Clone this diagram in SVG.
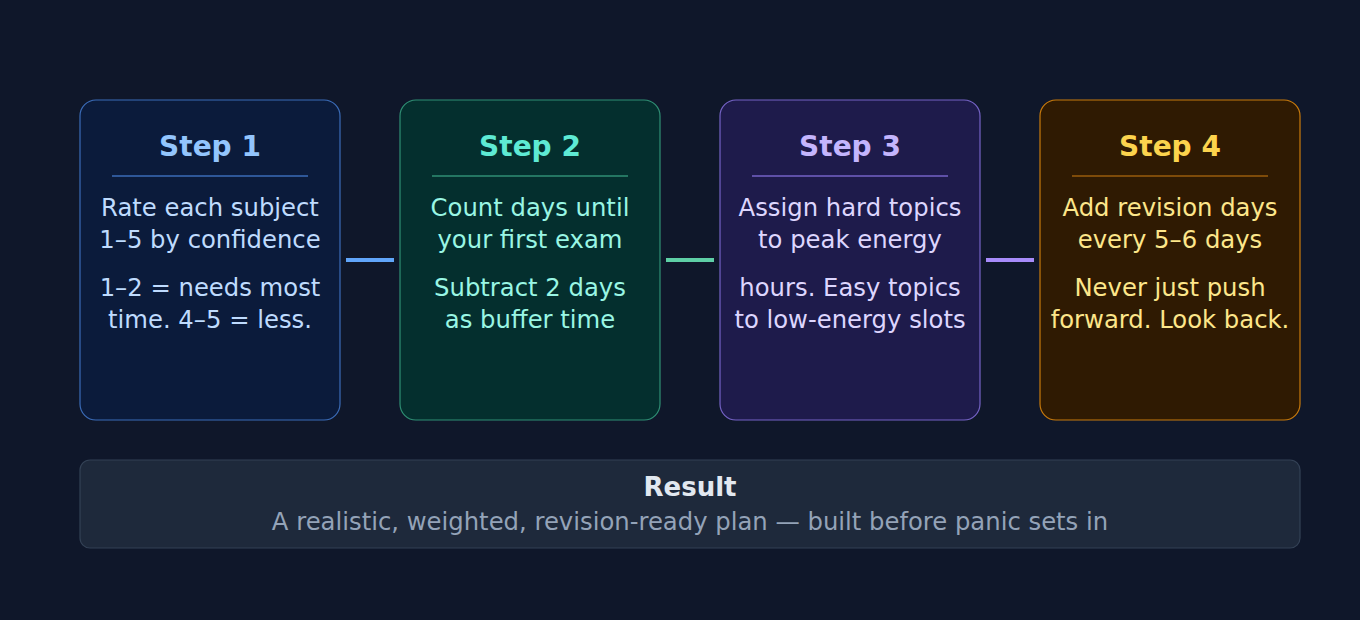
<svg xmlns="http://www.w3.org/2000/svg" width="1360" height="620" viewBox="0 0 1360 620">
<style>
text{font-family:"DejaVu Sans","Noto Sans",sans-serif;text-anchor:middle}
.t{font-size:28px;font-weight:bold}
.b{font-size:24.3px}
.box{stroke-width:1.2}
.conn{stroke-width:4;fill:none}
</style>
<rect width="1360" height="620" fill="#0f172a"/>
<g id="step1">
<rect class="box" x="80" y="100" width="260" height="320" rx="16" fill="#0b1b3b" stroke="#3b6cb8"/>
<text class="t" x="210" y="156" fill="#93c5fd">Step 1</text>
<line x1="112" y1="176" x2="308" y2="176" stroke="#3b6cb8" stroke-width="1.5"/>
<text class="b" x="210" y="216" fill="#bfdbfe">Rate each subject</text>
<text class="b" x="210" y="248" fill="#bfdbfe">1–5 by confidence</text>
<text class="b" x="210" y="296" fill="#bfdbfe">1–2 = needs most</text>
<text class="b" x="210" y="328" fill="#bfdbfe">time. 4–5 = less.</text>
</g>
<g id="step2">
<rect class="box" x="400" y="100" width="260" height="320" rx="16" fill="#042f2e" stroke="#2f8f74"/>
<text class="t" x="530" y="156" fill="#5eead4">Step 2</text>
<line x1="432" y1="176" x2="628" y2="176" stroke="#2f8f74" stroke-width="1.5"/>
<text class="b" x="530" y="216" fill="#99f6e4">Count days until</text>
<text class="b" x="530" y="248" fill="#99f6e4">your first exam</text>
<text class="b" x="530" y="296" fill="#99f6e4">Subtract 2 days</text>
<text class="b" x="530" y="328" fill="#99f6e4">as buffer time</text>
</g>
<g id="step3">
<rect class="box" x="720" y="100" width="260" height="320" rx="16" fill="#1e1b4b" stroke="#7563c6"/>
<text class="t" x="850" y="156" fill="#c4b5fd">Step 3</text>
<line x1="752" y1="176" x2="948" y2="176" stroke="#7563c6" stroke-width="1.5"/>
<text class="b" x="850" y="216" fill="#ddd6fe">Assign hard topics</text>
<text class="b" x="850" y="248" fill="#ddd6fe">to peak energy</text>
<text class="b" x="850" y="296" fill="#ddd6fe">hours. Easy topics</text>
<text class="b" x="850" y="328" fill="#ddd6fe">to low-energy slots</text>
</g>
<g id="step4">
<rect class="box" x="1040" y="100" width="260" height="320" rx="16" fill="#2f1a02" stroke="#c87a0c"/>
<text class="t" x="1170" y="156" fill="#fcd34d">Step 4</text>
<line x1="1072" y1="176" x2="1268" y2="176" stroke="#9a5c0c" stroke-width="1.5"/>
<text class="b" x="1170" y="216" fill="#fde68a">Add revision days</text>
<text class="b" x="1170" y="248" fill="#fde68a">every 5–6 days</text>
<text class="b" x="1170" y="296" fill="#fde68a">Never just push</text>
<text class="b" x="1170" y="328" fill="#fde68a">forward. Look back.</text>
</g>
<g id="connectors">
<line class="conn" x1="346" y1="260" x2="394" y2="260" stroke="#60a5fa"/>
<line class="conn" x1="666" y1="260" x2="714" y2="260" stroke="#5ecfa6"/>
<line class="conn" x1="986" y1="260" x2="1034" y2="260" stroke="#a78bfa"/>
</g>
<g id="result">
<rect x="80" y="460" width="1220" height="88" rx="10" fill="#1e293b" stroke="#334155" stroke-width="1.2"/>
<text x="690" y="496" font-size="26" font-weight="bold" fill="#e2e8f0">Result</text>
<text x="690" y="530" font-size="24.3" fill="#94a3b8">A realistic, weighted, revision-ready plan — built before panic sets in</text>
</g>
</svg>
